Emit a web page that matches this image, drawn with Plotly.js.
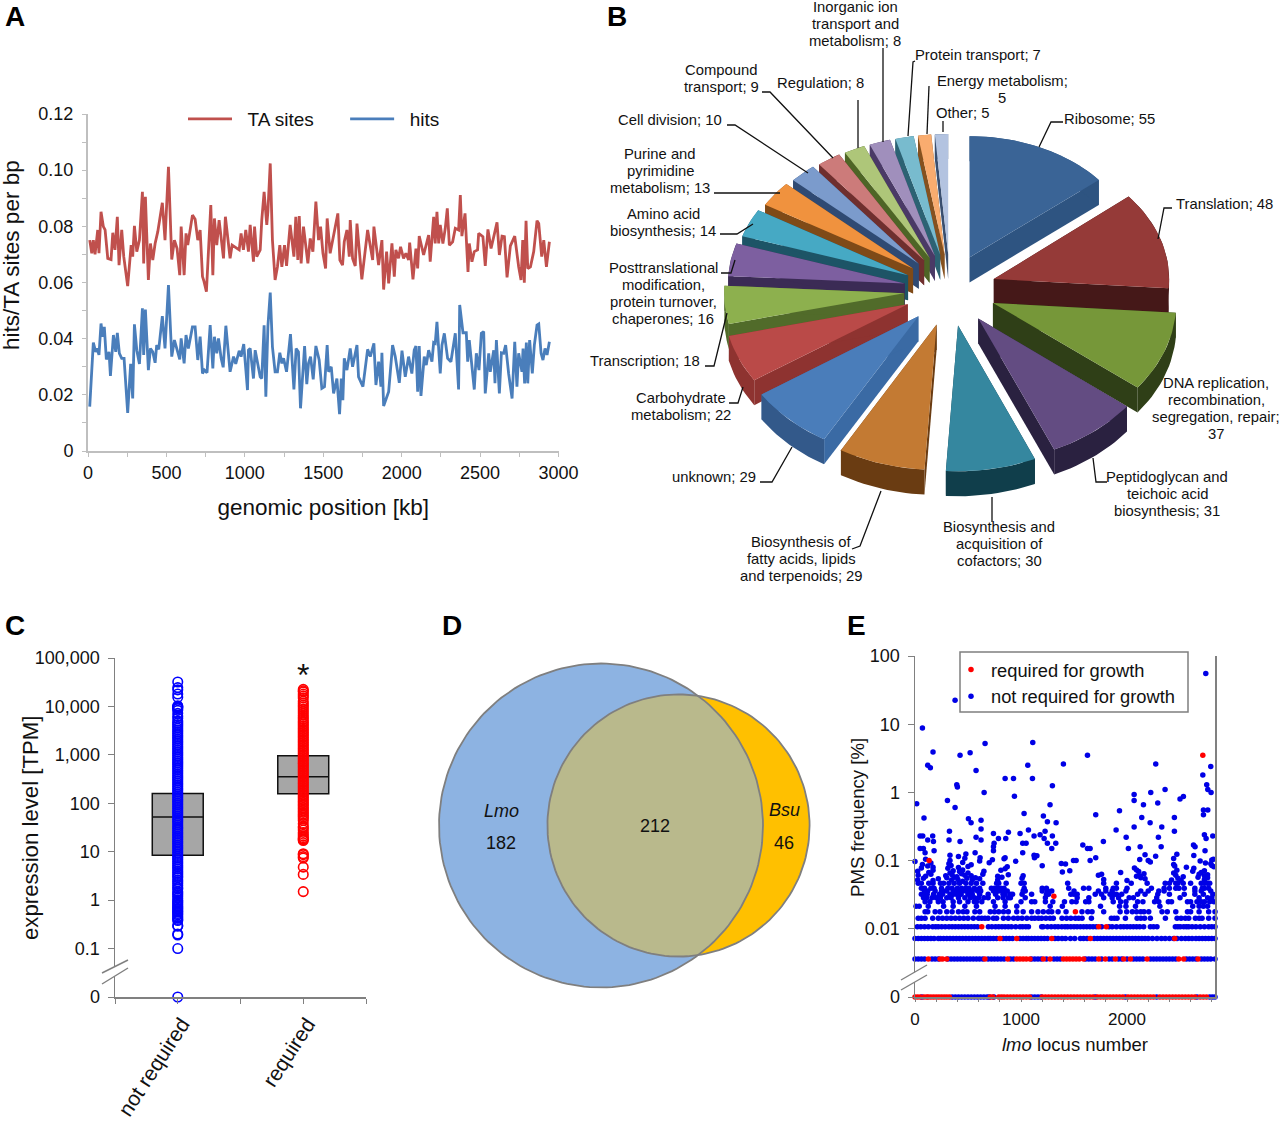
<!DOCTYPE html>
<html><head><meta charset="utf-8">
<script src="https://cdn.plot.ly/plotly-3.0.1.min.js"></script>
<style>html,body{margin:0;padding:0;background:#fff}</style></head>
<body><div id="chart" style="width:1280px;height:1123px"></div>
<script>
/* ---------- Panel A ---------- */
const taKb=[11,24,34,45,62,70,83,98,109,126,147,158,172,187,198,215,228,253,275,285,296,311,328,347,355,366,385,398,413,428,445,474,491,513,534,551,568,585,594,613,625,636,666,683,700,715,730,740,755,783,796,806,821,836,864,876,906,919,964,976,991,1006,1023,1034,1055,1062,1076,1098,1108,1123,1140,1147,1162,1176,1193,1208,1223,1236,1253,1266,1289,1313,1325,1338,1347,1359,1374,1402,1417,1434,1453,1470,1483,1498,1515,1525,1544,1593,1606,1623,1634,1651,1666,1672,1687,1704,1715,1746,1783,1815,1823,1853,1874,1885,1904,1917,1938,1953,1963,1980,1993,2012,2027,2044,2051,2072,2091,2102,2112,2140,2172,2182,2204,2214,2225,2236,2246,2263,2278,2291,2304,2325,2342,2363,2374,2384,2404,2423,2431,2448,2463,2484,2491,2518,2533,2550,2570,2608,2623,2640,2655,2672,2693,2721,2746,2761,2772,2782,2793,2804,2821,2842,2863,2874,2893,2906,2923,2942];
const taValues=[.0751,.0704,.0751,.0700,.0787,.0704,.0852,.0799,.0787,.0686,.0682,.0777,.0716,.0834,.0662,.0787,.0692,.0587,.0733,.0692,.0802,.0710,.0751,.0923,.0668,.0905,.0609,.0739,.0680,.0739,.0781,.0884,.0751,.1012,.0682,.0751,.0721,.0626,.0799,.0626,.0775,.0733,.0840,.0825,.0751,.0787,.0621,.0603,.0567,.0876,.0626,.0828,.0733,.0822,.0686,.0834,.0686,.0733,.0716,.0775,.0716,.0787,.0710,.0805,.0674,.0799,.0692,.0716,.0822,.0923,.0805,.0852,.1024,.0751,.0609,.0656,.0733,.0656,.0733,.0659,.0805,.0692,.0834,.0680,.0837,.0668,.0799,.0668,.0757,.0710,.0888,.0751,.0799,.0704,.0650,.0828,.0704,.0846,.0680,.0662,.0745,.0787,.0692,.0822,.0686,.0659,.0810,.0611,.0787,.0680,.0799,.0662,.0751,.0575,.0710,.0597,.0739,.0621,.0716,.0686,.0727,.0686,.0704,.0680,.0742,.0611,.0721,.0650,.0765,.0698,.0769,.0674,.0834,.0739,.0852,.0739,.0805,.0739,.0793,.0864,.0733,.0745,.0793,.0787,.0911,.0765,.0846,.0638,.0739,.0674,.0710,.0716,.0775,.0763,.0659,.0789,.0721,.0814,.0698,.0765,.0763,.0618,.0730,.0765,.0656,.0609,.0751,.0599,.0820,.0650,.0656,.0710,.0820,.0810,.0692,.0751,.0656,.0745];
const hitsKb=[11,34,49,58,70,83,94,104,117,134,143,162,177,187,200,215,230,253,272,285,296,311,328,347,355,366,385,398,413,428,438,451,474,491,513,534,551,566,585,594,613,625,640,666,683,700,715,730,742,759,779,796,806,821,832,849,862,879,906,928,942,964,976,993,1017,1023,1034,1055,1066,1098,1108,1123,1134,1147,1162,1176,1193,1208,1223,1236,1247,1266,1291,1313,1327,1342,1355,1381,1395,1406,1419,1436,1453,1474,1491,1508,1525,1534,1551,1566,1587,1604,1615,1625,1634,1651,1672,1687,1715,1725,1753,1783,1800,1823,1836,1853,1868,1874,1885,1917,1942,1959,1985,2002,2023,2044,2065,2080,2091,2102,2112,2123,2144,2157,2172,2193,2204,2214,2225,2246,2257,2272,2293,2314,2342,2363,2370,2391,2412,2421,2431,2463,2476,2493,2508,2523,2533,2555,2565,2587,2595,2604,2623,2636,2650,2663,2682,2704,2721,2735,2746,2767,2774,2784,2795,2804,2816,2833,2846,2863,2874,2889,2901,2914,2927,2942];
const hitsValues=[.0158,.0386,.0353,.0365,.0342,.0454,.0407,.0442,.0326,.0353,.0267,.0413,.0353,.0421,.0348,.0330,.0330,.0136,.0310,.0187,.0451,.0359,.0310,.0508,.0342,.0504,.0288,.0365,.0353,.0314,.0377,.0362,.0480,.0365,.0591,.0336,.0395,.0365,.0326,.0401,.0312,.0413,.0365,.0442,.0442,.0324,.0407,.0276,.0288,.0279,.0448,.0294,.0407,.0348,.0401,.0330,.0298,.0446,.0282,.0336,.0310,.0357,.0336,.0381,.0217,.0359,.0365,.0258,.0359,.0264,.0258,.0448,.0193,.0443,.0564,.0371,.0282,.0282,.0350,.0312,.0330,.0282,.0416,.0219,.0365,.0353,.0152,.0374,.0238,.0312,.0336,.0255,.0374,.0324,.0223,.0229,.0377,.0282,.0300,.0205,.0258,.0131,.0258,.0181,.0330,.0288,.0365,.0300,.0377,.0264,.0229,.0362,.0336,.0383,.0235,.0318,.0229,.0350,.0160,.0211,.0377,.0336,.0243,.0357,.0264,.0336,.0276,.0359,.0374,.0211,.0374,.0196,.0336,.0306,.0359,.0318,.0386,.0383,.0460,.0276,.0377,.0419,.0330,.0318,.0419,.0219,.0520,.0421,.0421,.0318,.0395,.0219,.0348,.0288,.0419,.0425,.0205,.0348,.0282,.0359,.0241,.0395,.0205,.0350,.0348,.0377,.0276,.0187,.0389,.0229,.0348,.0282,.0365,.0241,.0386,.0241,.0395,.0276,.0377,.0448,.0452,.0348,.0324,.0365,.0342,.0389];

/* ---------- Panel B ---------- */
const pieValues=[55,48,37,31,30,29,29,22,18,16,14,13,10,9,8,8,7,5,5];
const pieTop=["#3A6496","#953A38","#769739","#634C82","#35879F","#C37A33","#4A7DBA","#BA4A48","#8DB04E","#7D5FA0","#46A9C4","#F0923E","#7B9BCC","#CC7B7A","#AEC679","#A08FBC","#78BBCE","#F9AC6F","#B3C3E0"];
const pieWall=["#2E5481","#451818","#2F3F17","#2A2140","#103E4B","#6A3C12","#33598A","#8E3330","#516B2A","#3B2B55","#1D5466","#7F4A17","#2F4A73","#6F2F2E","#4E6526","#4A3A66","#2C6273","#85511F","#3A4F6F"];
const pieSide=["#2E5481","#451818","#2F3F17","#2A2140","#103E4B","#6A3C12","#3A6AA4","#8E3330","#516B2A","#3B2B55","#1D5466","#7F4A17","#2F4A73","#6F2F2E","#4E6526","#4A3A66","#2C6273","#85511F","#3A4F6F"];
const pieText=[
 [1109,119,["Ribosome; 55"]],[1224,204,["Translation; 48"]],
 [1216,383,["DNA replication,","recombination,","segregation, repair;","37"]],
 [1167,477,["Peptidoglycan and","teichoic acid","biosynthesis; 31"]],
 [999,527,["Biosynthesis and","acquisition of","cofactors; 30"]],
 [801,542,["Biosynthesis of","fatty acids, lipids","and terpenoids; 29"]],
 [714,477,["unknown; 29"]],[681,398,["Carbohydrate","metabolism; 22"]],
 [645,361,["Transcription; 18"]],
 [663,268,["Posttranslational","modification,","protein turnover,","chaperones; 16"]],
 [663,214,["Amino acid","biosynthesis; 14"]],
 [660,154,["Purine and","pyrimidine","metabolism; 13"]],
 [670,120,["Cell division; 10"]],[721,70,["Compound","transport; 9"]],
 [820,83,["Regulation; 8"]],[855,7,["Inorganic ion","transport and","metabolism; 8"]],
 [978,55,["Protein transport; 7"]],[1002,81,["Energy metabolism;","5"]],[962,113,["Other; 5"]]];
const pieLeaders=[
 [[1063,1051,1039],[122,122,147]],[[1172,1164,1158],[208,208,239]],
 [[1107,1096,1093],[482,482,458]],[[992,992],[497,522]],
 [[881,860,852],[491,546,549]],[[792,772,760],[447,482,482]],
 [[743,738,729],[387,403,403]],[[727,714,705],[313,366,366]],
 [[735,731,721],[260,273,273]],[[753,737,720],[224,234,234]],
 [[780,714],[193,193]],[[808,735,727],[173,125,125]],
 [[833,770,762],[158,92,92]],[[858,858],[148,100]],[[883,883],[142,48]],
 [[908,913,915],[136,62,61]],[[927,929],[134,86]],[[943,943],[132,121]]];

/* ---------- Panel C ---------- */
const notRequiredTPM=[0,.1,.19,.2,.29,.3,.38,.4,.43,.46,.5,.53,.57,.6,.64,.68,.72,.77,.82,.88,.94,1,1.1,1.2,1.3,1.4,1.5,1.7,1.8,2,2.2,2.4,2.6,2.9,3.1,3.4,3.7,4,4.4,4.8,5.2,5.7,6.2,6.8,7.4,8,8.8,9.6,10.5,11.5,12.5,13.6,15,16.3,17.8,19.4,21,23,25,27.5,30,32.5,35.5,39,42.5,46,50,55,60,65,71,78,85,93,101,110,120,131,143,156,170,186,203,221,241,263,287,313,341,372,406,443,483,527,575,627,684,746,813,887,968,1056,1152,1257,1371,1495,1631,1779,1941,2117,2309,2519,2748,2998,3270,3567,3891,4245,4600,5000,5700,6300,7200,8300,9000,9400,9700,10000,10300,15500,18000,22000,24500,32000];
const requiredTPM=[1.5,3.4,4.8,7.4,7.9,8.7,9.1,17,17.8,18.5,19.5,21,23,25,28,31,33,38,44,48,52,56,60,65,70,76,82,89,96,104,112,121,131,142,153,166,180,195,211,228,247,267,289,313,339,367,397,430,465,503,545,590,638,691,748,810,876,948,1026,1110,1200,1300,1410,1525,1650,1790,1935,2095,2270,2455,2660,2880,3115,3370,3650,3950,4280,4630,5000,5500,6000,6600,7300,8000,8800,9700,10600,11600,12800,15000,16500,18000,20000,21000,22500];
const boxCategories=["not required","required"];
const boxQ1=[8.5,158], boxMedian=[52,355], boxQ3=[160,960];

/* ---------- Panel D ---------- */
const vennOnlyLmo=182, vennShared=212, vennOnlyBsu=46;

/* ---------- Panel E : x = lmo locus number, y = PMS frequency ---------- */
const rowZeroBlue=[65,350,380,410,440,470,500,530,560,590,620,650,680,700,745,1100,1130,1160,1190,1700,1985,2280,2660,2780,2805,2830];
const rowZeroRed=[0,25,50,85,110,125,150,175,200,225,250,275,300,325,710,735,790,815,840,870,900,930,960,990,1020,1050,1080,1200,1230,1260,1290,1320,1350,1380,1410,1440,1470,1500,1530,1560,1590,1620,1650,1680,1720,1750,1780,1810,1840,1870,1900,1930,1960,2010,2040,2070,2100,2130,2160,2190,2220,2250,2310,2340,2370,2400,2430,2460,2490,2520,2550,2580,2610,2640,2690,2720,2750];
const row0036Blue=[0,30,60,90,160,190,220,310,340,370,400,430,460,490,520,550,580,610,640,690,720,750,780,810,840,900,930,1100,1130,1160,1190,1240,1310,1340,1370,1610,1640,1670,1700,1760,1830,1860,1920,1950,2000,2060,2090,2120,2150,2220,2250,2280,2310,2340,2370,2400,2430,2460,2560,2590,2620,2650,2700,2730,2760,2790,2830];
const row0036Red=[126,236,260,299,660,875,960,990,1020,1050,1085,1211,1274,1400,1430,1460,1490,1520,1550,1591,1733,1796,1890,1969,2032,2189,2488,2535,2670];
const row0072Blue=[0,30,60,90,120,150,180,220,240,270,300,330,360,390,420,450,480,510,540,570,600,630,660,690,710,740,770,830,860,890,920,990,1020,1050,1070,1100,1130,1160,1190,1220,1250,1320,1350,1387,1420,1466,1507,1560,1590,1623,1690,1720,1750,1780,1810,1840,1870,1900,1930,1960,1990,2020,2050,2080,2110,2140,2170,2200,2240,2283,2324,2360,2400,2440,2472,2513,2550,2582,2614,2650,2680,2710,2740,2770,2800,2830];
const row0072Red=[802,960,1290,1654,2450];
const row0107Blue=[22,55,90,126,167,195,220,252,285,320,350,380,410,440,470,500,530,560,590,692,725,760,790,820,850,880,910,950,990,1016,1045,1070,1195,1210,1250,1285,1320,1350,1385,1415,1440,1470,1500,1529,1560,1590,1620,1650,1680,1710,1760,1830,1860,1900,1940,1969,2000,2030,2060,2090,2120,2157,2220,2250,2283,2456,2480,2503,2535,2560,2582,2614,2650,2690,2730,2770,2800,2830];
const row0107Red=[630,1733,1805];
const row0143Blue=[30,60,95,167,220,260,300,340,380,420,460,500,550,600,630,660,690,740,770,834,880,930,970,1010,1055,1100,1130,1165,1195,1235,1274,1305,1387,1430,1470,1513,1544,1576,1664,1852,1880,1906,1985,2095,2130,2165,2220,2362,2472,2510,2550,2582,2645,2680,2708,2770,2830];
const row0178Blue=[95,120,190,235,300,350,410,455,490,565,610,710,750,790,835,880,960,1020,1100,1160,1210,1260,1290,1350,1425,1575,1630,1670,1780,1935,1997,2050,2090,2130,2160,2205,2330,2380,2460,2570,2600,2680,2770,2830];
const row0178Red=[1513];
const row0214Blue=[10,40,125,270,360,470,580,755,850,960,1275,1390,1750,1930,1990,2080,2310,2620,2680,2720,2760];
const bandLevels=[.025,.0286,.032,.0357,.0393,.0464];
const bandLocus=[
 [95,140,220,265,360,420,500,560,580,630,740,850,1000,1100,1130,1230,1300,1410,1480,1520,1610,1640,1870,1940,1990,2100,2150,2260,2300,2390,2420,2570,2600,2660,2700,2730,2780,2820],
 [80,110,160,200,240,300,340,410,470,520,560,600,650,690,780,830,880,900,1040,1230,1530,1640,1780,1860,1920,2020,2060,2280,2500,2680,2760,2800],
 [60,100,115,175,230,260,330,360,390,435,500,540,610,690,760,830,850,900,920,1010,1100,1240,1260,1470,1500,1530,1700,1760,1840,1880,1900,1950,2100,2170,2290,2400,2540,2640,2720,2810],
 [90,120,190,250,270,300,360,385,420,450,480,500,540,590,620,740,770,790,820,840,870,1020,1040,1200,1250,1290,1500,1730,1800,1860,1990,2130,2200,2300,2350,2640,2700,2790],
 [60,90,150,180,250,310,350,400,440,480,510,560,610,720,750,780,810,840,1030,1200,1240,1450,1590,1640,1800,1870,1900,2000,2230,2350,2400,2460,2490,2540,2640,2710,2730,2770],
 [30,60,130,170,240,270,320,370,420,480,530,580,640,770,790,860,1000,1030,1440,1780,1900,2040,2190,2360,2400,2460,2480,2530,2600,2700,2730,2760,2780]];
const midX=[25,80,170,220,300,345,370,405,450,490,540,570,610,780,820,1010,1780,2000,2130,2170,2420,2480,2510,2670,2730,2760,30,100,150,290,350,395,440,470,530,640,780,880,1020,1730,1760,2090,2120,2160,2460,2530,2680,2730,2760,25,130,170,330,360,420,450,500,650,810,1390,1460,1940,2090,2110,2440,2470,2620,2700,2730,60,120,170,310,340,410,500,850,870,1200,2070,2450,2560,2630,2800,2820,70,150,320,450,530,700,1380,1420,2220,2440,2740,2790,0,100,330,470,610,730,840,950,2120,2200,2440,2690,2800,330,410,480,1150,2170,2270,2470,2630];
const midY=[.052,.055,.051,.054,.056,.052,.057,.053,.05,.055,.052,.056,.054,.052,.057,.055,.053,.051,.056,.054,.052,.055,.051,.057,.053,.056,.061,.059,.063,.06,.062,.058,.064,.061,.06,.063,.059,.062,.06,.061,.063,.059,.06,.064,.061,.058,.063,.06,.062,.07,.067,.072,.066,.071,.069,.073,.066,.07,.072,.068,.071,.067,.073,.069,.066,.072,.07,.067,.071,.078,.083,.08,.077,.085,.079,.082,.076,.081,.084,.078,.083,.08,.077,.085,.081,.088,.092,.09,.094,.087,.093,.091,.089,.095,.088,.092,.09,.097,.105,.1,.108,.099,.103,.106,.098,.104,.1,.107,.099,.102,.12,.115,.125,.118,.122,.116,.124,.119];
const upperX=[16,70,378,2743,120,145,170,85,48,73,120,167,174,48,79,95,180,306,378,394,400,425,520,576,661,652,504,529,325,321,425,576,623,623,623,567,614,740,740,740,787,746,850,929,938,881,856,991,850,1029,1016,1048,1016,1064,1108,1111,1070,1123,1123,1127,1180,1211,1218,1227,1249,1249,1274,1296,1296,1290,1331,1328,1400,1495,1520,1583,1627,1627,1652,1652,1705,1705,1777,1897,1929,1992,2013,2067,2067,2067,2124,2139,2155,2224,2218,2290,2296,2328,2322,2271,2359,2447,2447,2500,2532,2627,2642,2715,2752,2762,2793,2790,2721,2721,2762,2809,2730,2746,2736,2815];
const upperY=[.68,8.8,22.5,55.6,2.5,2.3,3.9,.42,.23,.23,.2,.23,.19,.15,.15,.13,.14,.76,.6,1.3,1.2,3.5,3.8,2.1,5.2,1,.41,.36,.27,.2,.19,.22,.39,.29,.2,.13,.11,.25,.16,.14,.21,.18,1.6,1.6,.88,.26,.21,.25,.11,.49,.18,.18,.13,2.5,1.6,5.4,.28,.23,.12,.11,.24,.45,.21,.27,.18,.37,.66,1.25,.23,.15,.36,.18,2.6,.1,.1,.17,3.5,.15,.15,.1,.47,.11,.19,.28,.54,.22,.15,.93,.76,.31,.16,.43,.66,1,.36,.7,.22,.31,.16,2.6,1.1,.43,.27,.8,.87,.17,.16,1.8,1.3,1.1,1,2.4,.55,.47,.55,.23,.24,.21,.14,.105];
const upperRedX=[133,1310,2715], upperRedY=[.1,.03,3.5];

/* ---------- geometry helpers ---------- */
const W=1280,H=1123,FONT='"Liberation Sans",Arial,sans-serif',NB='\u00A0';
const domX=(a,b)=>[a/W,b/W], domY=(top,bot)=>[1-bot/H,1-top/H];
const traces=[];
const over={xaxis:'x4',yaxis:'y4',showlegend:false,hoverinfo:'skip'};
const poly=(x,y,color)=>traces.push(Object.assign({type:'scatter',mode:'lines',x,y,fill:'toself',fillcolor:color,line:{width:0,color}},over));
const polyline=(x,y,color,width)=>traces.push(Object.assign({type:'scatter',mode:'lines',x,y,line:{width,color}},over));

/* Panel A */
traces.push({type:'scatter',mode:'lines',name:NB.repeat(2)+'TA sites'+NB.repeat(5),x:taKb,y:taValues,line:{color:'#C0504D',width:2.8},xaxis:'x',yaxis:'y',legend:'legend'});
traces.push({type:'scatter',mode:'lines',name:NB.repeat(2)+'hits',x:hitsKb,y:hitsValues,line:{color:'#4A7EBB',width:2.8},xaxis:'x',yaxis:'y',legend:'legend'});

/* Panel C */
const zeroC=v=>v===0?0.01:v;
[0,1].forEach(i=>traces.push({type:'box',x:[i],q1:[boxQ1[i]],median:[boxMedian[i]],q3:[boxQ3[i]],lowerfence:[boxQ1[i]],upperfence:[boxQ3[i]],width:0.406,fillcolor:'#A6A6A6',line:{color:'#111',width:1.5},xaxis:'x2',yaxis:'y2',showlegend:false,hoverinfo:'skip',boxpoints:false}));
const openMk=c=>({symbol:'circle-open',size:9.5,line:{color:c,width:1.6},color:c});
traces.push({type:'scatter',mode:'markers',x:notRequiredTPM.map(()=>0),y:notRequiredTPM.map(zeroC),marker:openMk('#0000FF'),xaxis:'x2',yaxis:'y2',showlegend:false,cliponaxis:false,name:boxCategories[0]});
traces.push({type:'scatter',mode:'markers',x:requiredTPM.map(()=>1),y:requiredTPM,marker:openMk('#FF0000'),xaxis:'x2',yaxis:'y2',showlegend:false,cliponaxis:false,name:boxCategories[1]});

/* Panel E */
const ZERO_E=0.001;
const blueRows=[[ZERO_E,rowZeroBlue],[.0036,row0036Blue],[.0072,row0072Blue],[.0107,row0107Blue],[.0143,row0143Blue],[.0178,row0178Blue],[.0214,row0214Blue]].concat(bandLevels.map((l,i)=>[l,bandLocus[i]]));
const redRows=[[ZERO_E,rowZeroRed],[.0036,row0036Red],[.0072,row0072Red],[.0107,row0107Red],[.0178,row0178Red]];
const flatX=r=>r.flatMap(a=>a[1]), flatY=r=>r.flatMap(a=>a[1].map(()=>a[0]));
traces.push({type:'scatter',mode:'markers',name:'not required for growth',x:flatX(blueRows).concat(midX,upperX),y:flatY(blueRows).concat(midY,upperY),marker:{color:'#0000E6',size:5.5},xaxis:'x3',yaxis:'y3',legend:'legend2',cliponaxis:false});
traces.push({type:'scatter',mode:'markers',name:'required for growth',x:flatX(redRows).concat(upperRedX),y:flatY(redRows).concat(upperRedY),marker:{color:'#FF0000',size:5.5},xaxis:'x3',yaxis:'y3',legend:'legend2',cliponaxis:false});

/* Panel B : exploded 3-D pie, each wedge computed from pieValues */
const total=pieValues.reduce((a,b)=>a+b,0), DEG=Math.PI/180, DEPTH=25;
let acc=0;
const wedges=pieValues.map((v,i)=>{const t0=acc/total*360;acc+=v;const t1=acc/total*360,m=(t0+t1)/2*DEG;
  return {i,t0:t0*DEG,t1:t1*DEG,cx:950+46*Math.sin(m),cy:290-36*Math.cos(m),rx:179-12*Math.cos(m),ry:133-13*Math.cos(m)};});
wedges.slice().sort((a,b)=>a.cy-b.cy).forEach(w=>{
  const ax=[],ay=[],n=Math.max(4,Math.ceil((w.t1-w.t0)/(2*DEG)));
  for(let k=0;k<=n;k++){const t=w.t0+(w.t1-w.t0)*k/n;ax.push(w.cx+w.rx*Math.sin(t));ay.push(w.cy-w.ry*Math.cos(t));}
  poly([w.cx,ax[0],ax[0],w.cx,w.cx],[w.cy,ay[0],ay[0]+DEPTH,w.cy+DEPTH,w.cy],pieSide[w.i]);
  poly([w.cx,ax[n],ax[n],w.cx,w.cx],[w.cy,ay[n],ay[n]+DEPTH,w.cy+DEPTH,w.cy],pieSide[w.i]);
  poly(ax.concat(ax.slice().reverse()),ay.concat(ay.slice().reverse().map(y=>y+DEPTH)),pieWall[w.i]);
  poly([w.cx].concat(ax,[w.cx]),[w.cy].concat(ay,[w.cy]),pieTop[w.i]);
});
pieLeaders.forEach(l=>polyline(l[0],l[1],'#111',1.3));

/* Panel D : circles sized from the counts */
const nLmo=vennOnlyLmo+vennShared,nBsu=vennOnlyBsu+vennShared;
const rL=162,rB=rL*Math.sqrt(nBsu/nLmo),cLx=601,cBx=678.5,cY=825.5;
const circ=(cx,r,a0,a1)=>{const x=[],y=[];for(let k=0;k<=180;k++){const t=(a0+(a1-a0)*k/180)*DEG;x.push(cx+r*Math.cos(t));y.push(cY+r*Math.sin(t));}return [x,y];};
const [lx,ly]=circ(cLx,rL,0,360),[bx,by]=circ(cBx,rB,0,360);
poly(lx,ly,'#8DB3E2');poly(bx,by,'#FFC000');
const dx=cBx-cLx,xi=(dx*dx+rL*rL-rB*rB)/(2*dx),aL=Math.acos(xi/rL)/DEG,aB=Math.acos((dx-xi)/rB)/DEG;
const [l1x,l1y]=circ(cLx,rL,-aL,aL),[b1x,b1y]=circ(cBx,rB,180-aB,180+aB);
poly(l1x.concat(b1x.reverse()),l1y.concat(b1y.reverse()),'#B9B98C');
polyline(lx,ly,'#7F7F7F',1.8);polyline(bx,by,'#7F7F7F',1.8);

/* axis-break marks */
[[[102,128],[973,960],[102,128],[984,968]],[[901,927],[980,965],[901,927],[990,975]]].forEach(b=>{
  poly([b[0][0],b[0][1],b[2][1],b[2][0],b[0][0]],[b[1][0],b[1][1],b[3][1],b[3][0],b[1][0]],'#ffffff');
  polyline(b[0],b[1],'#7F7F7F',1.4);polyline(b[2],b[3],'#7F7F7F',1.4);
});

/* annotations */
const ann=[];
const txt=(x,y,text,size,extra)=>ann.push(Object.assign({xref:'x4',yref:'y4',x,y,text,showarrow:false,font:{family:FONT,size,color:'#111'},xanchor:'center',yanchor:'middle'},extra||{}));
[['A',15,16],['B',617,16],['C',15,625],['D',452,625],['E',856,625]].forEach(p=>txt(p[1],p[2],'<b>'+p[0]+'</b>',28,{font:{family:FONT,size:28,color:'#000'}}));
pieText.forEach(p=>p[2].forEach((line,i)=>txt(p[0],p[1]+i*17,line,14.8)));
txt(501,811,'<i>Lmo</i>',18);txt(501,843,String(vennOnlyLmo),18);
txt(655,826,String(vennShared),18);
txt(784,810,'<i>Bsu</i>',18);txt(784,843,String(vennOnlyBsu),18);
txt(303,675,'*',32);
txt(11,255,'hits/TA sites per bp',22.5,{textangle:-90});
txt(30,828,'expression level [TPM]',22.2,{textangle:-90});
txt(857,818,'PMS frequency [%]',18.6,{textangle:-90});
txt(1075,1044,'<i>lmo</i> locus number',18.5);

const gray='#BFBFBF', gray2='#808080', tf={family:FONT,size:18,color:'#111'};
const layout={
 width:W,height:H,margin:{l:0,r:0,t:0,b:0},paper_bgcolor:'#fff',plot_bgcolor:'rgba(0,0,0,0)',boxmode:'overlay',font:{family:FONT},
 legend:{orientation:'h',x:183/W,y:1-100/H,xanchor:'left',yanchor:'top',itemwidth:44,font:{family:FONT,size:19,color:'#111'},bgcolor:'rgba(0,0,0,0)'},
 legend2:{x:951/W,y:1-651/H,xanchor:'left',yanchor:'top',traceorder:'reversed',font:{family:FONT,size:18.3,color:'#111'},bgcolor:'rgba(0,0,0,0)',itemwidth:30},
 xaxis:{domain:domX(88,558.5),range:[0,3000],tickvals:[0,250,500,750,1000,1250,1500,1750,2000,2250,2500,2750,3000],ticktext:['0','','500','','1000','','1500','','2000','','2500','','3000'],tickangle:0,ticks:'outside',ticklen:4,tickcolor:gray,showline:true,linecolor:gray,linewidth:2,showgrid:false,zeroline:false,tickfont:tf,anchor:'y',title:{text:'genomic position [kb]',font:{family:FONT,size:22.5,color:'#111'},standoff:18}},
 yaxis:{domain:domY(114,451),range:[0,.12],tickvals:[0,.01,.02,.03,.04,.05,.06,.07,.08,.09,.1,.11,.12],ticktext:['0','','0.02','','0.04','','0.06','','0.08','','0.10','','0.12'],ticks:'outside',ticklen:4,ticklabelstandoff:5,tickcolor:gray,showline:true,linecolor:gray,linewidth:2,showgrid:false,zeroline:false,tickfont:tf,anchor:'x'},
 xaxis2:{domain:domX(115,366),range:[-.5,1.5],tickvals:[-.5,0,.5,1,1.5],ticktext:['',boxCategories[0],'',boxCategories[1],''],tickangle:-57,ticklabelshift:4,ticks:'outside',ticklen:5,tickcolor:gray2,showline:true,linecolor:gray2,linewidth:1.5,showgrid:false,zeroline:false,tickfont:{family:FONT,size:21,color:'#111'},anchor:'y2'},
 yaxis2:{type:'log',domain:domY(658,997),range:[-2,5],tickvals:[.01,.1,1,10,100,1000,10000,100000],ticktext:['0','0.1','1','10','100','1,000','10,000','100,000'],ticks:'outside',ticklen:6,ticklabelstandoff:4,tickcolor:gray2,showline:true,linecolor:gray2,linewidth:1.5,showgrid:false,zeroline:false,tickfont:tf,anchor:'x2'},
 xaxis3:{domain:domX(915,1215),range:[0,2830],tickvals:[0,200,400,600,800,1000,1200,1400,1600,1800,2000,2200,2400,2600,2800],ticktext:['0','','','','','1000','','','','','2000','','','',''],tickangle:0,ticks:'outside',ticklen:3,ticklabelstandoff:3,tickcolor:gray2,showline:true,linecolor:gray2,linewidth:1.5,showgrid:false,zeroline:false,tickfont:{family:FONT,size:17,color:'#111'},anchor:'y3'},
 yaxis3:{type:'log',domain:domY(656,997),range:[-3,2],tickvals:[.001,.01,.1,1,10,100],ticktext:['0','0.01','0.1','1','10','100'],ticks:'outside',ticklen:6,ticklabelstandoff:4,tickcolor:gray2,showline:true,mirror:true,linecolor:gray2,linewidth:1.5,showgrid:false,zeroline:false,tickfont:tf,anchor:'x3'},
 xaxis4:{domain:[0,1],range:[0,W],visible:false,fixedrange:true,anchor:'y4'},
 yaxis4:{domain:[0,1],range:[H,0],visible:false,fixedrange:true,anchor:'x4'},
 shapes:[{type:'rect',xref:'x4',yref:'y4',x0:960,x1:1188,y0:652,y1:712,line:{color:'#7F7F7F',width:1.5},fillcolor:'rgba(255,255,255,0)'}],
 annotations:ann
};
Plotly.newPlot('chart',traces,layout,{staticPlot:true,displayModeBar:false});
</script></body></html>
